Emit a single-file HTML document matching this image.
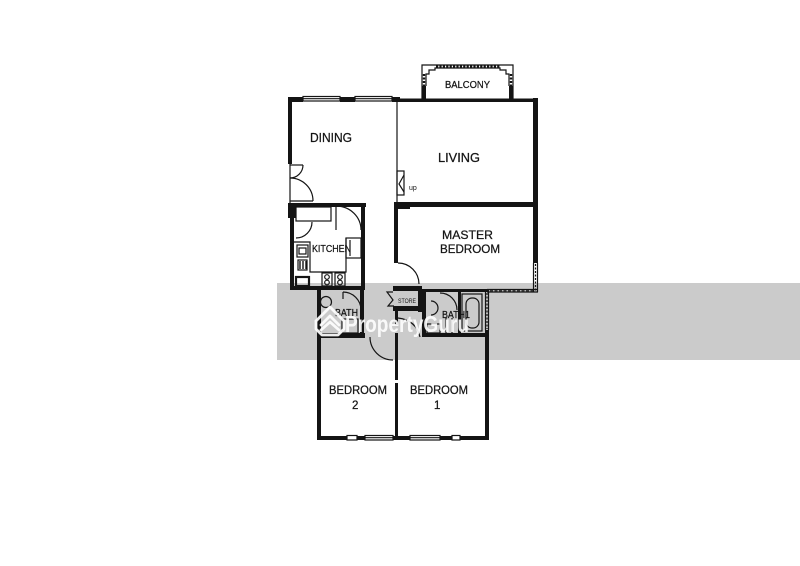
<!DOCTYPE html>
<html><head><meta charset="utf-8"><style>
html,body{margin:0;padding:0;background:#fff;width:800px;height:566px;overflow:hidden}
svg{display:block}
text{font-family:"Liberation Sans",sans-serif;fill:#151515}
.lb{stroke:#151515;stroke-width:0.25}
</style></head><body>
<svg width="800" height="566" viewBox="0 0 800 566" xmlns="http://www.w3.org/2000/svg">
<rect x="277" y="283" width="523" height="77" fill="#cbcbcb"/>

<!-- thick walls -->
<g fill="#141414">
  <rect x="288" y="97" width="15" height="5"/>
  <rect x="340" y="97" width="15" height="5"/>
  <rect x="392" y="97" width="8" height="5"/>
  <rect x="396" y="98.5" width="142" height="3.5"/>
  <rect x="422" y="86" width="4" height="13"/>
  <rect x="509" y="86" width="4" height="13"/>
  <rect x="533" y="98" width="5" height="165"/>
  <rect x="288" y="97" width="4" height="67"/>
  <rect x="288" y="203" width="8" height="15"/>
  <rect x="288" y="203" width="78" height="4"/>
  <rect x="290" y="203" width="4" height="87"/>
  <rect x="361" y="203" width="4" height="87"/>
  <rect x="290" y="286" width="75" height="4"/>
  <rect x="317" y="286" width="4" height="154"/>
  <rect x="360" y="286" width="4" height="51"/>
  <rect x="317" y="333" width="48" height="5"/>
  <rect x="395" y="333" width="3" height="47"/>
  <rect x="395" y="383" width="3" height="56"/>
  <rect x="317" y="436" width="30" height="4"/>
  <rect x="357" y="436" width="8" height="4"/>
  <rect x="393" y="436" width="17" height="4"/>
  <rect x="440" y="436" width="12" height="4"/>
  <rect x="460" y="436" width="29" height="4"/>
  <rect x="485" y="330" width="4" height="110"/>
  <rect x="394" y="202" width="144" height="5"/>
  <rect x="394" y="202" width="16" height="7"/>
  <rect x="394" y="202" width="4" height="61"/>
  <rect x="393" y="286" width="28" height="5"/>
  <rect x="418" y="286" width="4" height="26"/>
  <rect x="393" y="306" width="28" height="5"/>
  <rect x="395" y="311" width="3" height="14"/>
  <rect x="422" y="289" width="4" height="48"/>
  <rect x="422" y="289" width="66" height="3"/>
  <rect x="422" y="333" width="67" height="4"/>
  <rect x="458" y="292" width="3" height="41"/>
</g>

<!-- thin lines -->
<g fill="none" stroke="#151515" stroke-width="1.2">
  <rect x="303" y="96.5" width="37" height="4.5"/>
  <line x1="303" y1="98.7" x2="340" y2="98.7"/>
  <rect x="355" y="96.5" width="37" height="4.5"/>
  <line x1="355" y1="98.7" x2="392" y2="98.7"/>
  <line x1="397" y1="101" x2="397" y2="203"/>
  <rect x="397" y="171" width="7" height="24"/>
  <path d="M404,175 L399,184 L404,192"/>
  <path d="M422,99 V65 H513 V99"/>
  <path d="M426,86 V74 H429 V70 H435 V68 H500 V70 H506 V74 H509 V86"/>
  <line x1="436" y1="66.5" x2="500" y2="66.5" stroke-width="2.4" stroke-dasharray="2.2 1.2"/>
  <line x1="424" y1="74" x2="424" y2="86" stroke-width="2.4" stroke-dasharray="2 1.5"/>
  <line x1="511" y1="74" x2="511" y2="86" stroke-width="2.4" stroke-dasharray="2 1.5"/>
  <path d="M290,165 H303"/>
  <path d="M303,165 A13,13 0 0 1 290,178"/>
  <path d="M290,201 H313"/>
  <path d="M313,201 A23,23 0 0 0 290,178"/>
  <line x1="290" y1="164" x2="290" y2="203"/>
  <rect x="296" y="207" width="35" height="14"/>
  <line x1="336" y1="207" x2="336" y2="230"/>
  <path d="M337,206 A25,24 0 0 1 361,230"/>
  <path d="M312,222 A16,16 0 0 1 296,238"/>
  <path d="M294,242 H310 V272 H346 V238"/>
  <rect x="346" y="238" width="15" height="20"/>
  <line x1="350" y1="240" x2="350" y2="256"/>
  <rect x="297" y="245" width="11" height="12"/>
  <rect x="299" y="248" width="7" height="6"/>
  <rect x="298" y="260" width="9" height="10"/>
  <path d="M300,261 V269 M303,261 V269 M306,261 V269" stroke-width="1.4"/>
  <rect x="296" y="277" width="13" height="9" stroke-width="2.2"/>
  <rect x="322" y="273" width="10" height="13"/>
  <rect x="335" y="273" width="10" height="13"/>
  <circle cx="327" cy="277" r="2.3"/><circle cx="327" cy="282.5" r="2.3"/>
  <circle cx="340" cy="277" r="2.3"/><circle cx="340" cy="282.5" r="2.3"/>
  <path d="M398,263 A21,21 0 0 1 419,284"/>
  <line x1="533.5" y1="263" x2="533.5" y2="292"/>
  <line x1="537.5" y1="263" x2="537.5" y2="292"/>
  <line x1="535.5" y1="264" x2="535.5" y2="291" stroke-dasharray="2 1.5"/>
  <line x1="487" y1="289.5" x2="538" y2="289.5"/>
  <line x1="487" y1="292" x2="538" y2="292"/>
  <line x1="490" y1="290.8" x2="533" y2="290.8" stroke-dasharray="3 1.5"/>
  <path d="M393,292 H387 L393,300 L388,306 H394"/>
  <circle cx="326" cy="302" r="5.5"/>
  <line x1="343" y1="292" x2="343" y2="299"/>
  <path d="M343,292 A18,18 0 0 1 361,310"/>
  <rect x="342" y="319" width="16" height="14"/>
  <path d="M431,301 A7,7 0 0 1 431,315"/>
  <path d="M440,293 A17,17 0 0 1 457,310"/>
  <rect x="427" y="324" width="13" height="9"/>
  <line x1="446" y1="318" x2="446" y2="333"/>
  <line x1="452" y1="318" x2="452" y2="333"/>
  <rect x="462" y="294" width="20" height="37"/>
  <rect x="466" y="298" width="13" height="30" rx="6"/>
  <line x1="485.5" y1="290" x2="485.5" y2="330"/>
  <line x1="488.5" y1="290" x2="488.5" y2="330"/>
  <line x1="487" y1="293" x2="487" y2="329" stroke-dasharray="2 1.5"/>
  <path d="M370,337 A23,23 0 0 0 393,360"/>
  <path d="M398,318 Q416,320 420,337"/>
  <rect x="347" y="435.5" width="10" height="4.5"/>
  <rect x="365" y="435.5" width="28" height="4.5"/>
  <line x1="365" y1="437.7" x2="393" y2="437.7"/>
  <rect x="410" y="435.5" width="30" height="4.5"/>
  <line x1="410" y1="437.7" x2="440" y2="437.7"/>
  <rect x="452" y="435.5" width="8" height="4.5"/>
</g>

<!-- labels -->
<text class="lb" x="310" y="142" font-size="12.5" textLength="42" lengthAdjust="spacingAndGlyphs">DINING</text>
<text class="lb" x="438" y="162" font-size="13" textLength="42" lengthAdjust="spacingAndGlyphs">LIVING</text>
<text class="lb" x="445" y="88" font-size="10" textLength="45" lengthAdjust="spacingAndGlyphs">BALCONY</text>
<text x="409" y="190" font-size="7">up</text>
<text class="lb" x="442" y="239" font-size="12" textLength="51" lengthAdjust="spacingAndGlyphs">MASTER</text>
<text class="lb" x="440" y="253" font-size="12" textLength="60" lengthAdjust="spacingAndGlyphs">BEDROOM</text>
<text class="lb" x="312" y="252" font-size="10" textLength="39" lengthAdjust="spacingAndGlyphs">KITCHEN</text>
<text class="lb" x="335" y="316" font-size="10" textLength="23" lengthAdjust="spacingAndGlyphs">BATH</text>
<text class="lb" x="442" y="318" font-size="10" textLength="28" lengthAdjust="spacingAndGlyphs">BATH1</text>
<text x="398" y="303" font-size="6.5" textLength="18" lengthAdjust="spacingAndGlyphs">STORE</text>
<text class="lb" x="329" y="394" font-size="11.5" textLength="58" lengthAdjust="spacingAndGlyphs">BEDROOM</text>
<text class="lb" x="352" y="409" font-size="11.5">2</text>
<text class="lb" x="410" y="394" font-size="11.5" textLength="58" lengthAdjust="spacingAndGlyphs">BEDROOM</text>
<text class="lb" x="434" y="409" font-size="11.5">1</text>

<!-- watermark -->
<g stroke="#ffffff" stroke-width="2.8" fill="none" stroke-linejoin="round" stroke-linecap="round" opacity="0.92">
  <path d="M316,321 L330,307 L344,321"/>
  <path d="M316,321 V329 L322,335 H338 L344,329 V321"/>
  <path d="M321,325 L330,316 L339,325"/>
  <path d="M321,330 L330,322 L339,330"/>
</g>
<text x="345" y="332" font-size="23" font-weight="bold" textLength="124" lengthAdjust="spacingAndGlyphs" style="fill:#ffffff" opacity="0.9">PropertyGuru</text>
</svg>
</body></html>
